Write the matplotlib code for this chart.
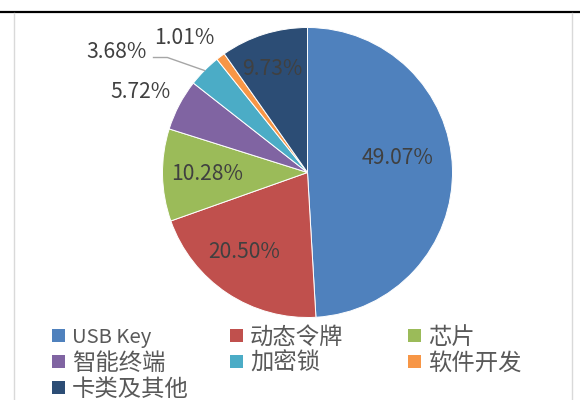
import matplotlib
matplotlib.use('Agg')
import matplotlib.pyplot as plt
from matplotlib.patches import Rectangle
from matplotlib.lines import Line2D
import numpy as np

categories = ['USB Key', '动态令牌', '芯片', '智能终端', '加密锁', '软件开发', '卡类及其他']
shares = [49.07, 20.50, 10.28, 5.72, 3.68, 1.01, 9.73]
pct_labels = ['49.07%', '20.50%', '10.28%', '5.72%', '3.68%', '1.01%', '9.73%']
colors = ['#4F81BD', '#C0504D', '#9BBB59', '#8064A2', '#4BACC6', '#F79646', '#2C4D75']

# label layout (data units of the pie axes, radius = 1)
label_xy = [(0.62, 0.10), (-0.434, -0.548), (-0.69, -0.01), (-1.155, 0.552),
            (-1.32, 0.828), (-0.852, 0.931), (-0.245, 0.717)]

plt.rcParams['font.family'] = ['Noto Sans CJK SC', 'DejaVu Sans']

W, H = 580, 400
fig = plt.figure(figsize=(W / 100, H / 100), dpi=100)

# frame
fig.add_artist(Line2D([0, 1], [1 - 12 / H, 1 - 12 / H], color='black', lw=1.6,
                      transform=fig.transFigure))
for xp in (14, 572):
    fig.add_artist(Line2D([xp / W, xp / W], [0, 1 - 13 / H], color='#D9D9D9', lw=1.0,
                          transform=fig.transFigure))

cx, cy, r = 307.5, 172.5, 145
ax = fig.add_axes([(cx - r) / W, (H - cy - r) / H, 2 * r / W, 2 * r / H])
wedges, _ = ax.pie(shares, colors=colors, startangle=90, counterclock=False, radius=1,
                   wedgeprops=dict(edgecolor='white', linewidth=0.7))
ax.set_xlim(-1, 1)
ax.set_ylim(-1, 1)
ax.set_aspect('auto')
ax.axis('off')

for i, (lab, (x, y)) in enumerate(zip(pct_labels, label_xy)):
    ax.text(x, y, lab, ha='center', va='center', fontsize=15.2, color='#404040',
            clip_on=False)

# leader line for 加密锁
w = wedges[4]
mid = np.deg2rad((w.theta1 + w.theta2) / 2)
ex, ey = np.cos(mid), np.sin(mid)
ax.plot([-1.062, -0.966, ex], [0.793, 0.793, ey], color='#A6A6A6', lw=1.0,
        clip_on=False)

# legend (row-major, 3 columns)
for i, (cat, col) in enumerate(zip(categories, colors)):
    row, c = divmod(i, 3)
    x0 = 52 + c * 178
    yc = 335 + row * 26
    fig.add_artist(Rectangle((x0 / W, (H - yc - 6.5) / H), 13 / W, 13 / H,
                             facecolor=col, edgecolor='none', transform=fig.transFigure))
    size = 14.6 if cat.isascii() else 16.8
    fig.text((x0 + 20) / W, (H - yc) / H, cat, ha='left', va='center_baseline',
             fontsize=size, color='#595959')

fig.savefig('out.png', dpi=100)
